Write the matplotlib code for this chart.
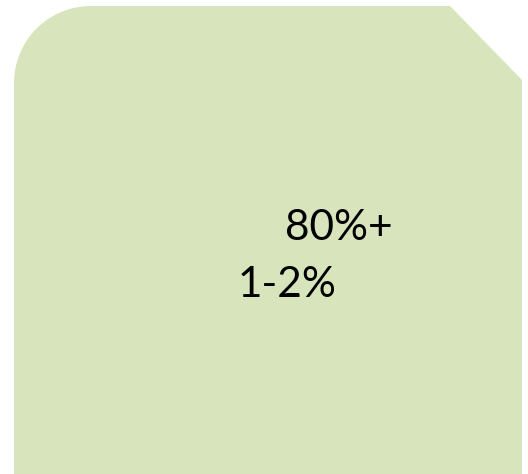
import matplotlib.pyplot as plt
import numpy as np
from matplotlib.patches import Polygon

W, H = 528, 474
FILL = '#D8E4BC'

labels = ["80%+", "1-2%"]
label_x = [285, 238]
label_y = [240, 297]
FONTSIZE = 30.5

fig = plt.figure(figsize=(W / 100.0, H / 100.0), dpi=100)
ax = fig.add_axes([0, 0, 1, 1])
ax.set_xlim(0, W)
ax.set_ylim(H, 0)
ax.axis('off')

# panel outline: rounded top-left corner, cut top-right corner
left, top, right, bottom = 14, 6, 522, H + 5
r = 77
t = np.linspace(np.pi, 1.5 * np.pi, 40)
arc = np.column_stack([left + r + r * np.cos(t), top + r + r * np.sin(t)])
pts = np.vstack([[[left, bottom]], arc, [[450, top], [right, 80], [right, bottom]]])
ax.add_patch(Polygon(pts, closed=True, facecolor=FILL, edgecolor='none'))

for s, x, y in zip(labels, label_x, label_y):
    ax.text(x, y, s, fontsize=FONTSIZE, family='Lato', color='black',
            ha='left', va='baseline')

fig.savefig('out.png', dpi=100)
